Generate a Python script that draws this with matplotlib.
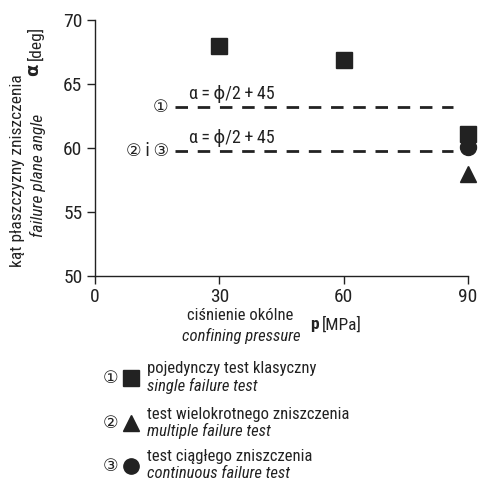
import matplotlib
matplotlib.use("Agg")
import matplotlib.pyplot as plt

FAM = ['Roboto Condensed', 'DejaVu Sans']
plt.rcParams['font.family'] = FAM

# data
single_p = [30, 60, 90]
single_a = [68.0, 66.9, 61.1]
multiple_p = [90]
multiple_a = [58.0]
continuous_p = [90]
continuous_a = [60.1]
theory_levels = [63.2, 59.8]
theory_x = [19.3, 86.4]
xticks = [0, 30, 60, 90]
yticks = [50, 55, 60, 65, 70]

W, H = 478, 482
tc = '#222222'
fig = plt.figure(figsize=(W / 100, H / 100), dpi=100)
ax = fig.add_axes([95 / W, 1 - 276 / H, 373 / W, 256 / H])
ax.set_xlim(0, 90)
ax.set_ylim(50, 70)
for s in ['top', 'right']:
    ax.spines[s].set_visible(False)
for s in ['left', 'bottom']:
    ax.spines[s].set_linewidth(1.0)
    ax.spines[s].set_color(tc)
ax.set_xticks(xticks)
ax.set_yticks(yticks)
ax.tick_params(direction='out', length=6, width=1, labelsize=14, colors=tc, pad=3)

for lvl in theory_levels:
    ax.plot(theory_x, [lvl, lvl], ls=(0, (4.5, 3.5)), color=tc, lw=2.0)

ax.plot(single_p, single_a, 's', color=tc, ms=11, clip_on=False, zorder=5)
ax.plot(continuous_p, continuous_a, 'o', color=tc, ms=11.5, clip_on=False, zorder=4)
ax.plot(multiple_p, multiple_a, '^', color=tc, ms=11, clip_on=False, zorder=5)

eq = 'α\u2009=\u2009ϕ/2\u2009+\u200945'
ax.text(22.8, theory_levels[0] + 0.3, eq, fontsize=13, color=tc, va='bottom', ha='left')
ax.text(22.8, theory_levels[1] + 0.3, eq, fontsize=13, color=tc, va='bottom', ha='left')
ax.text(17.8, theory_levels[0], '①', fontsize=12.5, color=tc, va='center', ha='right', family=['DejaVu Sans'])
ax.text(17.8, theory_levels[1], '②\u2009i\u2009③', fontsize=12.5, color=tc, va='center', ha='right', family=['DejaVu Sans'])

def ft(x, y, s, **kw):
    fig.text(x / W, 1 - y / H, s, color=tc, **kw)

# y label
ft(18, 171, 'kąt płaszczyzny zniszczenia', rotation=90, fontsize=12.5, ha='center', va='center')
ft(38, 175, 'failure plane angle', rotation=90, fontsize=12.5, style='italic', ha='center', va='center')
ft(33, 70, 'α', rotation=90, fontsize=13, weight='bold', ha='center', va='center', family=['DejaVu Sans'])
ft(35, 43, '[deg]', rotation=90, fontsize=12.5, ha='center', va='center')

# x label
ft(240, 316, 'ciśnienie okólne', fontsize=12, ha='center', va='center')
ft(241, 336, 'confining pressure', fontsize=12, style='italic', ha='center', va='center')
ft(310, 325, 'p', fontsize=12.5, weight='bold', ha='left', va='center')
ft(322, 325, '[MPa]', fontsize=12.5, ha='left', va='center')

# legend
rows = [
    ('①', 's', 'pojedynczy test klasyczny', 'single failure test', 378),
    ('②', '^', 'test wielokrotnego zniszczenia', 'multiple failure test', 423),
    ('③', 'o', 'test ciągłego zniszczenia', 'continuous failure test', 466),
]
lax = fig.add_axes([0, 0, 1, 1], facecolor='none')
lax.set_xlim(0, W)
lax.set_ylim(H, 0)
lax.axis('off')
for num, m, l1, l2, y in rows:
    ft(111, y, num, fontsize=12.5, ha='center', va='center', family=['DejaVu Sans'])
    lax.plot([131], [y], m, color=tc, ms=11)
    ft(147, y - 9, l1, fontsize=12, ha='left', va='center')
    ft(147, y + 8, l2, fontsize=12, style='italic', ha='left', va='center')

fig.savefig('out.png', dpi=100)
